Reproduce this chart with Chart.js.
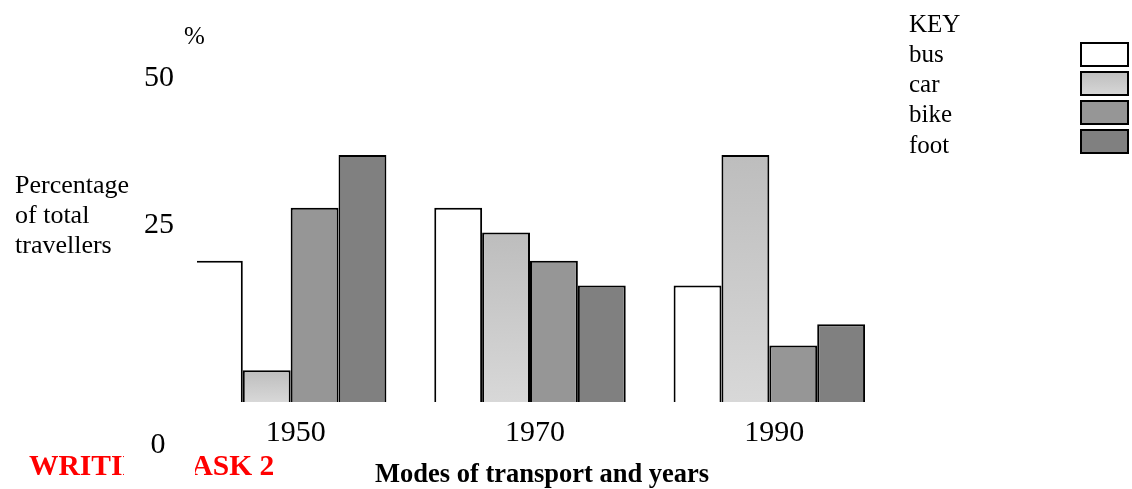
<!DOCTYPE html>
<html>
<head>
<meta charset="utf-8">
<script src="https://cdn.jsdelivr.net/npm/chart.js@4.4.1/dist/chart.umd.min.js"></script>
<style>
    html, body { margin: 0; padding: 0; background: #fff; }
</style>
</head>
<body>
<canvas id="chart" width="1132" height="489"></canvas>
<script>
// Chart data
const years = ['1950', '1970', '1990'];
const modes = ['bus', 'car', 'bike', 'foot'];
const busValues = [20, 27.5, 16.5];
const carValues = [4.5, 24, 35];
const bikeValues = [27.5, 20, 8];
const footValues = [35, 16.5, 11];
const yTickLabels = ['50', '25', '0'];

const SERIF = '"Liberation Serif", "Times New Roman", serif';

// Car bars get a light vertical gradient, each bar its own
function carGradient(ctx, top, bottom) {
    const g = ctx.createLinearGradient(0, top, 0, bottom);
    g.addColorStop(0, '#bdbdbd');
    g.addColorStop(1, '#d8d8d8');
    return g;
}

const fills = {
    bus: '#ffffff',
    car: function(context) {
        const chart = context.chart;
        const area = chart.chartArea;
        if (!area || context.parsed == null) return '#cacaca';
        const top = chart.scales.y.getPixelForValue(context.parsed.y);
        return carGradient(chart.ctx, top, area.bottom);
    },
    bike: '#969696',
    foot: '#808080'
};

const seriesValues = [busValues, carValues, bikeValues, footValues];

const datasets = modes.map((m, i) => ({
    label: m,
    data: seriesValues[i],
    backgroundColor: fills[m],
    borderColor: '#000000',
    borderWidth: 2,
    categoryPercentage: 0.8,
    barPercentage: 1.0,
    // first bus bar is cut on its left side in the original
    clip: m === 'bus' ? { left: -26, top: false, right: false, bottom: 0 } : undefined
}));

// Text, axis labels and the key, drawn over the chart
const textPlugin = {
    id: 'textPlugin',
    afterDraw(chart) {
        const ctx = chart.ctx;
        const x = chart.scales.x;
        ctx.save();
        ctx.fillStyle = '#000';
        ctx.textBaseline = 'alphabetic';

        // unit
        ctx.font = '25px ' + SERIF;
        ctx.textAlign = 'left';
        ctx.fillText('%', 184, 44);

        // y axis title
        ctx.font = '26px ' + SERIF;
        ctx.fillText('Percentage', 15, 193);
        ctx.fillText('of total', 15, 223);
        ctx.fillText('travellers', 15, 253);

        // years (sit a little right of the group centres)
        ctx.font = '30px ' + SERIF;
        ctx.textAlign = 'center';
        years.forEach((y, i) => {
            ctx.fillText(y, x.getPixelForValue(i) + 5, 441);
        });

        // x axis title
        ctx.font = 'bold 26.5px ' + SERIF;
        ctx.textAlign = 'left';
        ctx.fillText('Modes of transport and years', 375, 482);

        // red heading, partly covered
        ctx.fillStyle = '#ff0000';
        ctx.font = 'bold 29.5px ' + SERIF;
        ctx.fillText('WRITING TASK 2', 29, 475);
        ctx.fillStyle = '#ffffff';
        ctx.fillRect(124, 440, 71, 49);

        // y tick labels
        ctx.fillStyle = '#000';
        ctx.font = '30px ' + SERIF;
        ctx.textAlign = 'center';
        const tickY = { '50': 86, '25': 233, '0': 453 };
        yTickLabels.forEach(t => {
            ctx.fillText(t, t === '0' ? 158 : 159, tickY[t]);
        });

        // key
        ctx.font = '25px ' + SERIF;
        ctx.textAlign = 'left';
        ctx.fillText('KEY', 909, 32);
        const labelY = [62, 92, 122, 153];
        const boxY = [42, 71, 100, 129];
        chart.data.datasets.forEach((ds, i) => {
            ctx.fillStyle = '#000';
            ctx.fillText(ds.label, 909, labelY[i]);
            const by = boxY[i];
            ctx.fillStyle = ds.label === 'car' ? carGradient(ctx, by, by + 25) : ds.backgroundColor;
            ctx.fillRect(1080, by, 49, 25);
            ctx.strokeStyle = '#000';
            ctx.lineWidth = 2;
            ctx.strokeRect(1081, by + 1, 47, 23);
        });
        ctx.restore();
    }
};

new Chart(document.getElementById('chart'), {
    type: 'bar',
    data: {
        labels: years,
        datasets: datasets
    },
    options: {
        responsive: false,
        animation: false,
        devicePixelRatio: 1,
        layout: {
            padding: { left: 171, right: 243, top: 49, bottom: 87 }
        },
        plugins: {
            legend: { display: false },
            tooltip: { enabled: false },
            title: { display: false }
        },
        scales: {
            x: { display: false },
            y: { display: false, min: 0, max: 50 }
        }
    },
    plugins: [textPlugin]
});
</script>
</body>
</html>
